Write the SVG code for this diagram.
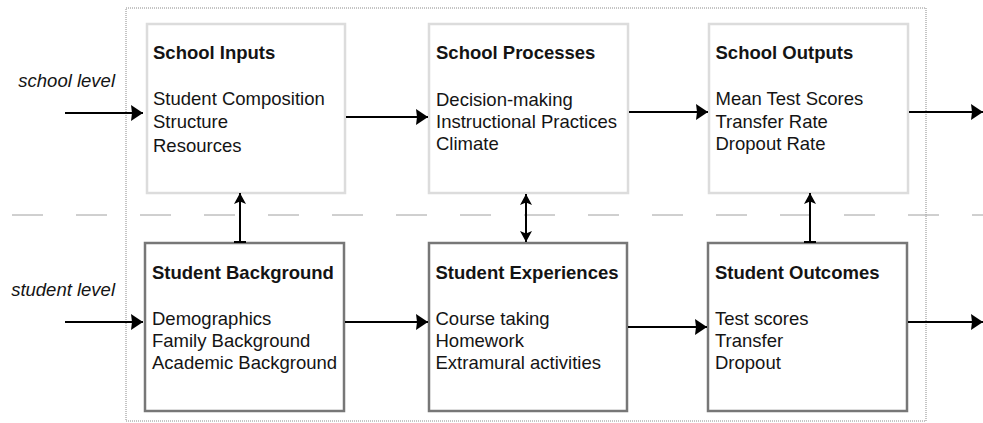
<svg xmlns="http://www.w3.org/2000/svg" width="983" height="423" viewBox="0 0 983 423">
  <style>
    .lbl { font-family: "Liberation Sans", Arial, sans-serif; font-size: 18.5px; fill: #141414; }
    .title { font-weight: bold; font-size: 18.5px; }
    .level { font-style: italic; }
    .school { fill: #ffffff; stroke: #dcdcdc; stroke-width: 2.5; }
    .student { fill: #ffffff; stroke: #777777; stroke-width: 2.5; }
    .conn { stroke: #000000; stroke-width: 2; fill: none; }
  </style>
  <defs>
    <!-- wide head for the horizontal flow arrows -->
    <marker id="arrow" viewBox="0 0 12 16" refX="12" refY="8" markerWidth="12" markerHeight="16" markerUnits="userSpaceOnUse" orient="auto-start-reverse">
      <path d="M0,0 L12,8 L0,16 L1,8 z" fill="#000000"/>
    </marker>
    <!-- narrower notched head for the links between levels -->
    <marker id="arrow-v" viewBox="0 0 11 12" refX="11" refY="6" markerWidth="11" markerHeight="12" markerUnits="userSpaceOnUse" orient="auto-start-reverse">
      <path d="M0,0 L11,6 L0,12 L2.5,6 z" fill="#000000"/>
    </marker>
    <marker id="tee" viewBox="0 0 4 12" refX="2" refY="6" markerWidth="4" markerHeight="12" markerUnits="userSpaceOnUse" orient="auto">
      <rect x="1" y="0" width="2" height="12" fill="#000000"/>
    </marker>
  </defs>

  <rect width="983" height="423" fill="#ffffff"/>

  <!-- boundary of the school system -->
  <rect x="126" y="8" width="800" height="413" fill="none" stroke="#8a8a8a" stroke-width="1" stroke-dasharray="1 1"/>

  <!-- divider between school and student level -->
  <line x1="12" y1="215" x2="983" y2="215" stroke="#a0a0a0" stroke-width="1" stroke-dasharray="31 33"/>

  <text class="lbl level" x="115" y="87" text-anchor="end">school level</text>
  <text class="lbl level" x="115" y="296" text-anchor="end">student level</text>

  <g id="school-inputs">
    <rect class="school" x="147" y="24" width="198" height="169"/>
    <text class="lbl title" x="153" y="59">School Inputs</text>
    <text class="lbl" x="153" y="105">Student Composition</text>
    <text class="lbl" x="153" y="127.5">Structure</text>
    <text class="lbl" x="153" y="152">Resources</text>
  </g>

  <g id="school-processes">
    <rect class="school" x="429" y="24" width="199" height="169"/>
    <text class="lbl title" x="436" y="59">School Processes</text>
    <text class="lbl" x="436" y="105.5">Decision-making</text>
    <text class="lbl" x="436" y="127.5">Instructional Practices</text>
    <text class="lbl" x="436" y="150">Climate</text>
  </g>

  <g id="school-outputs">
    <rect class="school" x="709" y="24" width="199" height="169"/>
    <text class="lbl title" x="715.5" y="59">School Outputs</text>
    <text class="lbl" x="715.5" y="105">Mean Test Scores</text>
    <text class="lbl" x="715.5" y="127.5">Transfer Rate</text>
    <text class="lbl" x="715.5" y="150">Dropout Rate</text>
  </g>

  <g id="student-background">
    <rect class="student" x="145" y="243" width="199" height="168"/>
    <text class="lbl title" x="152" y="279">Student Background</text>
    <text class="lbl" x="152" y="324.5">Demographics</text>
    <text class="lbl" x="152" y="346.5">Family Background</text>
    <text class="lbl" x="152" y="368.5">Academic Background</text>
  </g>

  <g id="student-experiences">
    <rect class="student" x="429" y="243" width="198" height="168"/>
    <text class="lbl title" x="435.5" y="279">Student Experiences</text>
    <text class="lbl" x="435.5" y="324.5">Course taking</text>
    <text class="lbl" x="435.5" y="346.5">Homework</text>
    <text class="lbl" x="435.5" y="368.5">Extramural activities</text>
  </g>

  <g id="student-outcomes">
    <rect class="student" x="708" y="243" width="199" height="168"/>
    <text class="lbl title" x="715" y="279">Student Outcomes</text>
    <text class="lbl" x="715" y="324.5">Test scores</text>
    <text class="lbl" x="715" y="346.5">Transfer</text>
    <text class="lbl" x="715" y="368.5">Dropout</text>
  </g>

  <g id="connectors">
    <!-- school level flow -->
    <line class="conn" x1="65" y1="113" x2="143" y2="113" marker-end="url(#arrow)"/>
    <line class="conn" x1="346" y1="117" x2="428" y2="117" marker-end="url(#arrow)"/>
    <line class="conn" x1="629" y1="112" x2="708" y2="112" marker-end="url(#arrow)"/>
    <line class="conn" x1="909" y1="112" x2="983" y2="112" marker-end="url(#arrow)"/>
    <!-- student level flow -->
    <line class="conn" x1="65" y1="322" x2="143" y2="322" marker-end="url(#arrow)"/>
    <line class="conn" x1="345" y1="322" x2="428" y2="322" marker-end="url(#arrow)"/>
    <line class="conn" x1="628" y1="327" x2="707" y2="327" marker-end="url(#arrow)"/>
    <line class="conn" x1="908" y1="322" x2="983" y2="322" marker-end="url(#arrow)"/>
    <!-- links between levels -->
    <line class="conn" x1="240" y1="242" x2="240" y2="193" marker-start="url(#tee)" marker-end="url(#arrow-v)"/>
    <line class="conn" x1="526" y1="242" x2="526" y2="194" marker-start="url(#arrow-v)" marker-end="url(#arrow-v)"/>
    <line class="conn" x1="810" y1="242" x2="810" y2="193" marker-start="url(#tee)" marker-end="url(#arrow-v)"/>
  </g>
</svg>
